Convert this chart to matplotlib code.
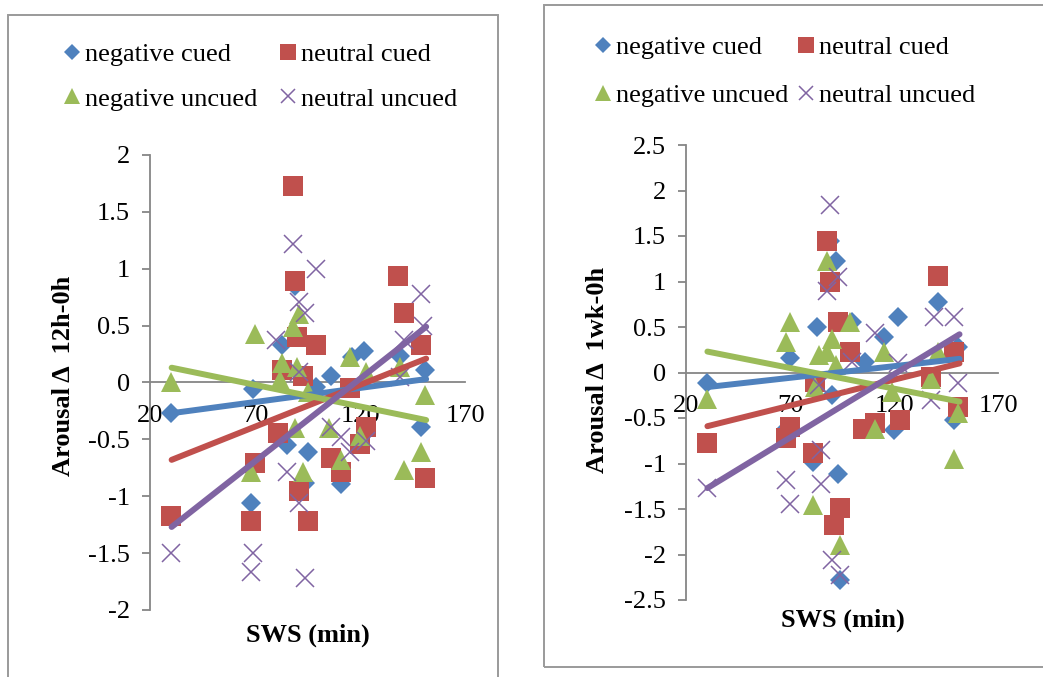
import matplotlib
matplotlib.use("Agg")
import matplotlib.pyplot as plt
from matplotlib.patches import Rectangle

plt.rcParams['font.family'] = ['Liberation Serif', 'DejaVu Serif']

# series names / colours (Excel 2007 palette)
names = ['negative cued', 'neutral cued', 'negative uncued', 'neutral uncued']
colors = ['#4F81BD', '#C0504D', '#9BBB59', '#8064A2']

# ---- panel 1: 12h - 0h ----
p1_neg_cued_x = [30, 69, 68, 83, 89, 85, 95, 94, 99, 106, 111, 116, 122, 139, 151, 149]
p1_neg_cued_y = [-0.27, -0.06, -1.06, 0.33, 0.85, -0.55, -0.61, -0.88, -0.04, 0.06, -0.89, 0.22, 0.28, 0.23, 0.11, -0.39]
p1_neu_cued_x = [30, 68, 70, 81, 83, 88, 89, 90, 93, 91, 95, 99, 106, 111, 115, 120, 123, 138, 141, 149, 151]
p1_neu_cued_y = [-1.17, -1.22, -0.71, -0.44, 0.11, 1.73, 0.89, 0.40, 0.06, -0.95, -1.22, 0.33, -0.66, -0.79, -0.05, -0.54, -0.39, 0.94, 0.61, 0.33, -0.84]
p1_neg_unc_x = [30, 70, 68, 83, 82, 88, 91, 90, 89, 93, 95, 105, 111, 115, 123, 120, 139, 141, 151, 149]
p1_neg_unc_y = [0.0, 0.43, -0.79, 0.17, 0.02, 0.49, 0.60, 0.14, -0.40, -0.79, -0.08, -0.40, -0.68, 0.22, 0.09, -0.47, 0.14, -0.77, -0.11, -0.61]
p1_neu_unc_x = [30, 69, 68, 88, 99, 91, 94, 80, 91, 85, 91, 94, 106, 111, 115, 123, 141, 149, 150, 139]
p1_neu_unc_y = [-1.50, -1.50, -1.67, 1.22, 1.00, 0.71, 0.61, 0.37, 0.09, -0.79, -1.06, -1.72, -0.39, -0.48, -0.61, -0.51, 0.37, 0.78, 0.50, 0.05]

# ---- panel 2: 1wk - 0h ----
p2_neg_cued_x = [30, 70, 68, 83, 92, 89, 81, 93, 94, 90, 100, 106, 115, 122, 120, 141, 151, 149, 82]
p2_neg_cued_y = [-0.11, 0.16, -0.62, 0.50, 1.23, 1.44, -0.98, -1.11, -2.28, -0.25, 0.56, 0.12, 0.39, 0.61, -0.63, 0.78, 0.28, -0.52, -0.16]
p2_neu_cued_x = [30, 70, 68, 81, 88, 89, 93, 99, 94, 91, 82, 105, 111, 123, 141, 149, 151, 138]
p2_neu_cued_y = [-0.78, -0.60, -0.72, -0.89, 1.44, 1.00, 0.56, 0.23, -1.49, -1.68, -0.10, -0.62, -0.56, -0.52, 1.06, 0.23, -0.38, -0.05]
p2_neg_unc_x = [30, 70, 68, 81, 88, 90, 84, 88, 92, 99, 94, 82, 111, 115, 119, 138, 141, 151, 149]
p2_neg_unc_y = [-0.29, 0.56, 0.34, -1.46, 1.22, 0.37, 0.19, 0.23, 0.08, 0.56, -1.90, -0.16, -0.62, 0.23, -0.21, -0.07, 0.23, -0.45, -0.95]
p2_neu_unc_x = [30, 68, 70, 89, 93, 88, 85, 85, 90, 94, 84, 111, 100, 122, 139, 149, 151, 138]
p2_neu_unc_y = [-1.27, -1.18, -1.44, 1.84, 1.05, 0.90, -0.85, -1.22, -2.06, -2.23, -0.14, 0.43, 0.12, 0.10, 0.61, 0.61, -0.12, -0.30]

# linear trendline end points
trend_x = [30.3, 151.5]
p1_trend_y = [[-0.27, 0.03], [-0.68, 0.21], [0.13, -0.33], [-1.27, 0.49]]
p2_trend_y = [[-0.16, 0.15], [-0.59, 0.10], [0.23, -0.32], [-1.27, 0.42]]

x_ticks = [20, 70, 120, 170]
p1_y_ticks = [-2, -1.5, -1, -0.5, 0, 0.5, 1, 1.5, 2]
p2_y_ticks = [-2.5, -2, -1.5, -1, -0.5, 0, 0.5, 1, 1.5, 2, 2.5]

markers = [dict(marker='D', markersize=10.2, markeredgewidth=0),
           dict(marker='s', markersize=14.5, markeredgewidth=0),
           dict(marker='^', markersize=14.5, markeredgewidth=0),
           dict(marker='x', markersize=13, markeredgewidth=1.1)]

FS = 19
AXIS_GREY = '#868686'


def draw_panel(ax, xs, ys, trends, yticks, ylabel):
    handles = []
    for x, y, c, m, n in zip(xs, ys, colors, markers, names):
        h, = ax.plot(x, y, linestyle='none', color=c, label=n, zorder=3, **m)
        handles.append(h)
    for ty, c in zip(trends, colors):
        ax.plot(trend_x, ty, color=c, lw=4.3, solid_capstyle='round', zorder=4)

    ax.set_xlim(20, 170)
    ax.set_ylim(yticks[0], yticks[-1])
    ax.set_xticks(x_ticks)
    ax.set_yticks(yticks)
    ax.set_yticklabels(['%g' % v for v in yticks])

    for s in ['top', 'right']:
        ax.spines[s].set_visible(False)
    ax.spines['bottom'].set_position(('data', 0))
    for s in ['left', 'bottom']:
        ax.spines[s].set_color(AXIS_GREY)
        ax.spines[s].set_linewidth(1.3)
        ax.spines[s].set_zorder(2)
    ax.tick_params(axis='y', length=5.5, width=1.3, color=AXIS_GREY, pad=9, labelsize=FS)
    ax.tick_params(axis='x', length=0, pad=16, labelsize=FS)

    ax.set_ylabel(ylabel, fontsize=FS, fontweight='bold', ha='center', va='center')
    ax.set_xlabel('SWS (min)', fontsize=FS, fontweight='bold', ha='center', va='center')
    ax.patch.set_alpha(0)
    return handles


fig = plt.figure(figsize=(10.43, 6.77), dpi=100)

# bordered boxes around each chart
fig.patches.append(Rectangle((8 / 1043, -0.02), 490 / 1043, 1 - 15 / 677 + 0.02,
                             transform=fig.transFigure, fill=False, ec='#9A9A9A', lw=1.4))
fig.patches.append(Rectangle((544 / 1043, 10 / 677), 0.6, 1 - 15 / 677,
                             transform=fig.transFigure, fill=False, ec='#9A9A9A', lw=1.4))

ax1 = fig.add_axes([150 / 1043, 1 - 610 / 677, 315 / 1043, 455 / 677])
ax2 = fig.add_axes([686 / 1043, 1 - 600 / 677, 312 / 1043, 455 / 677])

h1 = draw_panel(ax1,
                [p1_neg_cued_x, p1_neu_cued_x, p1_neg_unc_x, p1_neu_unc_x],
                [p1_neg_cued_y, p1_neu_cued_y, p1_neg_unc_y, p1_neu_unc_y],
                p1_trend_y, p1_y_ticks, 'Arousal \u0394  12h-0h')
h2 = draw_panel(ax2,
                [p2_neg_cued_x, p2_neu_cued_x, p2_neg_unc_x, p2_neu_unc_x],
                [p2_neg_cued_y, p2_neu_cued_y, p2_neg_unc_y, p2_neu_unc_y],
                p2_trend_y, p2_y_ticks, 'Arousal \u0394  1wk-0h')

ax1.yaxis.set_label_coords(-0.275, 0.514)
ax1.xaxis.set_label_coords(0.502, -0.055)
ax2.yaxis.set_label_coords(-0.285, 0.505)
ax2.xaxis.set_label_coords(0.503, -0.044)

# legends: column-major order so rows read cued / uncued
for h, anchor, cs, ls in [(h1, (63 / 1043, 1 - 43 / 677), 0.8, 0.78),
                          (h2, (594 / 1043, 1 - 36 / 677), 0.3, 0.92)]:
    fig.legend([h[0], h[2], h[1], h[3]], [names[0], names[2], names[1], names[3]],
               loc='upper left', bbox_to_anchor=anchor, ncol=2, frameon=False,
               fontsize=FS, markerscale=0.8, handlelength=0.7, handletextpad=0.15,
               columnspacing=cs, labelspacing=ls, borderpad=0, borderaxespad=0)

fig.savefig('out.png', dpi=100)
